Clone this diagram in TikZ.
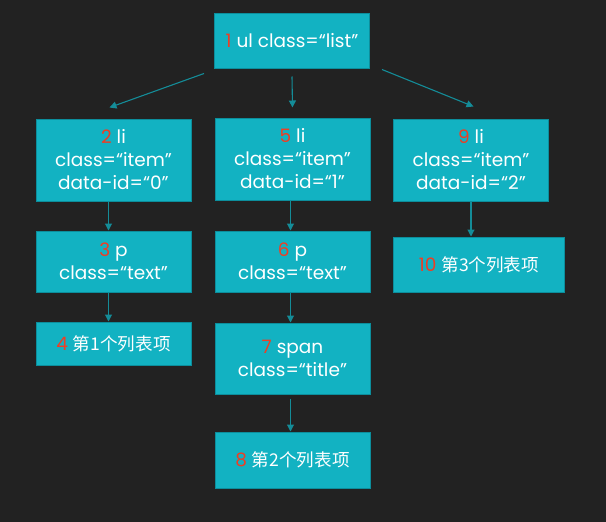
\documentclass[tikz,border=0pt]{standalone}
\usepackage{fontspec}
\setmainfont{Poppins}
\newfontfamily\cjk[Scale=0.95]{Noto Sans CJK SC}
\usetikzlibrary{arrows.meta}
\definecolor{fond}{HTML}{222222}
\definecolor{turquoise}{HTML}{12B2C2}
\definecolor{bord}{HTML}{0C8E9C}
\definecolor{trait}{HTML}{148C98}
\definecolor{rouge}{HTML}{EE3E24}
\newcommand{\num}[1]{\textcolor{rouge}{#1}}
\begin{document}
\begin{tikzpicture}[x=1pt, y=-1pt]
			\tikzset{boite/.style={rectangle, draw=bord, line width=1pt, fill=turquoise, text=white, align=center, inner sep=0pt, minimum width=155pt, font=\fontsize{18.5}{23}\selectfont}, fleche/.style={-{Triangle[length=7pt, width=7pt]}, draw=trait, line width=1.1pt}};

			\fill[fond] (0,0) rectangle (606,522);
			\useasboundingbox (0,0) rectangle (606,522);

			\node[boite, minimum height=55pt] (ul1)   at (292,   40.5) {\num{1} ul class=“list”};
			\node[boite, minimum height=82pt] (li2)   at (113.5, 160) {\num{2} li\\class=“item”\\data-id=“0”};
			\node[boite, minimum height=61pt] (p3)    at (113.5, 261.5) {\num{3} p\\class=“text”};
			\node[boite, minimum height=43pt] (t4)    at (113.5, 343.5) {\num{4} {\cjk 第1个列表项}};
			\node[boite, minimum height=82pt] (li5)   at (292.5, 159) {\num{5} li\\class=“item”\\data-id=“1”};
			\node[boite, minimum height=61pt] (p6)    at (292.5, 261.5) {\num{6} p\\class=“text”};
			\node[boite, minimum height=71pt] (span7) at (292.5, 358.5) {\num{7} span\\class=“title”};
			\node[boite, minimum height=56pt] (t8)    at (292.5, 460) {\num{8} {\cjk 第2个列表项}};
			\node[boite, minimum height=82pt] (li9)   at (471,   160) {\num{9} li\\class=“item”\\data-id=“2”};
			\node[boite, minimum height=55pt, minimum width=171pt] (t10) at (479, 264.5) {\num{10} {\cjk 第3个列表项}};

			\draw[fleche] ([xshift=-10pt, yshift=-5pt]ul1.south west) to ([xshift=-4pt, yshift=11pt]li2.north);
			\draw[fleche] ([yshift=-8pt]ul1.south) to ([yshift=10pt]li5.north);
			\draw[fleche] ([xshift=12pt, yshift=-1pt]ul1.south east) to ([xshift=2.5pt, yshift=12pt]li9.north);
			\draw[fleche] ([xshift=-5pt]li2.south) to ([xshift=-5pt]p3.north);
			\draw[fleche] ([xshift=-5pt]p3.south) to ([xshift=-5pt]t4.north);
			\draw[fleche] ([xshift=-2pt]li5.south) to ([xshift=-2pt]p6.north);
			\draw[fleche] ([xshift=-2pt]p6.south) to ([xshift=-2pt]span7.north);
			\draw[fleche] ([xshift=-2pt, yshift=-4pt]span7.south) to ([xshift=-2pt]t8.north);
			\draw[fleche] (li9.south) to (li9.south |- t10.north);

		\end{tikzpicture}
\end{document}
